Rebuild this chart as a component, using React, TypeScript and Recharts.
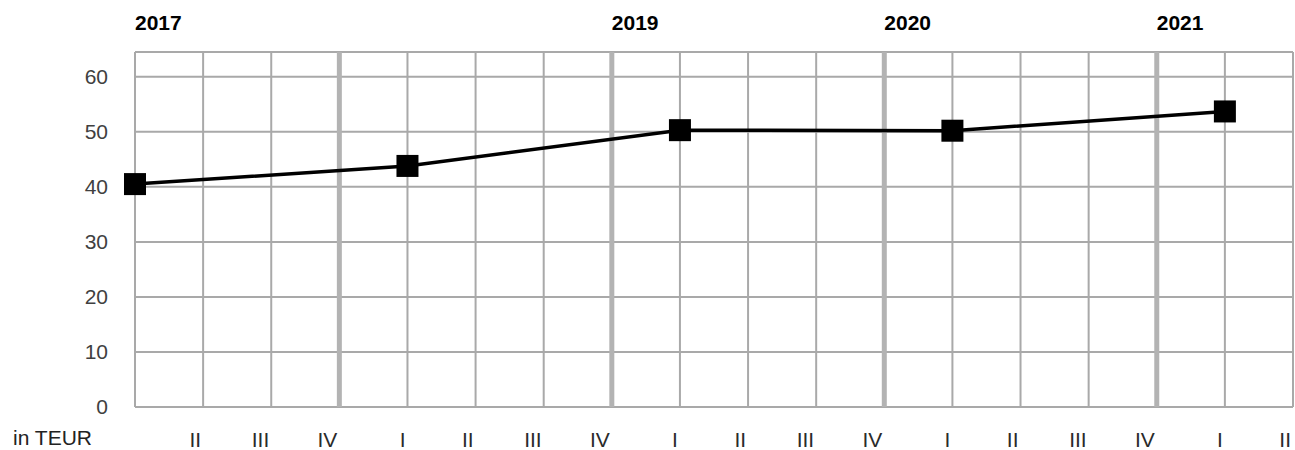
import {
  LineChart, Line, XAxis, YAxis, CartesianGrid, ReferenceLine,
} from "recharts";

// quarter label for every x slot (index = position on the axis)
const quarters = ["I", "II", "III", "IV", "I", "II", "III", "IV", "I", "II", "III", "IV", "I", "II", "III", "IV", "I", "II"];
// values in TEUR, only the first quarter of each year is reported
const values: (number | null)[] = [40.5, null, null, null, 43.8, null, null, null, 50.3, null, null, null, 50.2, null, null, null, 53.7, null];
const yTicks = [0, 10, 20, 30, 40, 50, 60];
const yearLabels = ["2017", "2019", "2020", "2021"];
const yearSlots = [0, 7, 11, 15];
const separatorSlots = [3, 7, 11, 15];

const data = quarters.map((q, i) => ({ i, q, value: values[i] }));

const FONT = "'Liberation Sans', Arial, sans-serif";
const GRID = "#a9a9a9";

const SquareDot = (props: any) => {
  const { cx, cy, value } = props;
  if (value == null || cx == null) return null;
  return <rect x={cx - 11} y={cy - 11} width={22} height={22} fill="#000" />;
};

const QuarterTick = (props: any) => {
  const { x, y, payload } = props;
  if (payload.value === 0) return null;
  return (
    <text x={x - 2} y={y + 32} textAnchor="end" fontFamily={FONT} fontSize={21} fill="#2a2a2a">
      {quarters[payload.value]}
    </text>
  );
};

export default function App() {
  return (
    <div style={{ position: "absolute", left: 0, top: 0, width: 1295, height: 450, background: "#fff" }}>
      <LineChart width={1295} height={450} data={data} margin={{ top: 52, right: 2, bottom: 0, left: 0 }}>
        <CartesianGrid stroke={GRID} strokeWidth={2} />
        <XAxis
          type="number"
          dataKey="i"
          domain={[0, 17]}
          ticks={quarters.map((_, i) => i)}
          axisLine={false}
          tickLine={false}
          tick={<QuarterTick />}
          height={43}
          interval={0}
        />
        <YAxis
          domain={[0, 64.5]}
          ticks={yTicks}
          width={135}
          axisLine={false}
          tickLine={false}
          tickSize={0}
          tickMargin={27}
          tick={{ fontFamily: FONT, fontSize: 21, fill: "#404040" }}
        />
        <ReferenceLine y={64.5} stroke={GRID} strokeWidth={2} />
        {separatorSlots.map((s) => (
          <ReferenceLine key={"sep" + s} x={s} stroke="#b3b3b3" strokeWidth={5} />
        ))}
        {yearSlots.map((s, k) => (
          <ReferenceLine
            key={"yr" + s}
            x={s}
            stroke="none"
            label={(p: any) => (
              <text x={p.viewBox.x} y={p.viewBox.y - 22} fontFamily={FONT} fontSize={21} fontWeight="bold" fill="#000">
                {yearLabels[k]}
              </text>
            )}
          />
        ))}
        <Line
          type="linear"
          dataKey="value"
          stroke="#000"
          strokeWidth={3.5}
          connectNulls
          dot={<SquareDot />}
          activeDot={false}
          isAnimationActive={false}
        />
      </LineChart>
      <div style={{ position: "absolute", left: 13, top: 426, fontFamily: FONT, fontSize: 21, color: "#222" }}>
        in TEUR
      </div>
    </div>
  );
}
